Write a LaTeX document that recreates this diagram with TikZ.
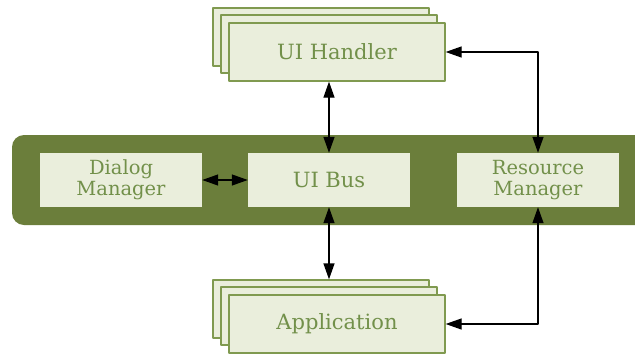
\documentclass[tikz,border=0pt]{standalone}
\usepackage{fontspec}
\setmainfont{DejaVu Serif}
\usetikzlibrary{arrows.meta}
\definecolor{bandgreen}{HTML}{6B7E3B}
\definecolor{boxfill}{HTML}{EAEEDC}
\definecolor{boxline}{HTML}{809A50}
\definecolor{boxtext}{HTML}{72904A}
\begin{document}
\begin{tikzpicture}[x=1pt, y=-1pt, line join=round, >={Triangle[length=16pt,width=11pt]},
    box/.style={draw=boxline, line width=1.3pt, fill=boxfill, text=boxtext, minimum width=216, minimum height=58, font=\fontsize{21}{24}\selectfont},
    inner/.style={fill=boxfill, text=boxtext, minimum width=162, minimum height=54, align=center, font=\fontsize{19.5}{21}\selectfont},
    link/.style={<->, line width=1.3pt}]
  \useasboundingbox (0,0) rectangle (635,354);
  \fill[bandgreen, rounded corners=12] (12,135) rectangle (660,225);
  % stacked windows
  \foreach \n/\x/\y in {handler3/321/37, handler2/329/44, app3/321/309, app2/329/316}
    {\node[box] (\n) at (\x,\y) {};}
  \node[box] (handler) at (337,52) {UI Handler};
  \node[box] (app) at (337,324) {Application};
  % band
  \node[inner] (dialog) at (121,180) {Dialog\\Manager};
  \node[inner, font=\fontsize{21}{24}\selectfont] (bus) at (329,180) {UI Bus};
  \node[inner] (res) at (538,180) {Resource\\Manager};
  % links
  \draw[link] (dialog) -- (bus);
  \draw[link] (bus.north) -- (bus.north |- handler.south);
  \draw[link] (bus.south) -- (bus.south |- app3.north);
  \draw[link] (handler.east) -| (res.north);
  \draw[link] (res.south) |- (app.east);
\end{tikzpicture}
\end{document}
